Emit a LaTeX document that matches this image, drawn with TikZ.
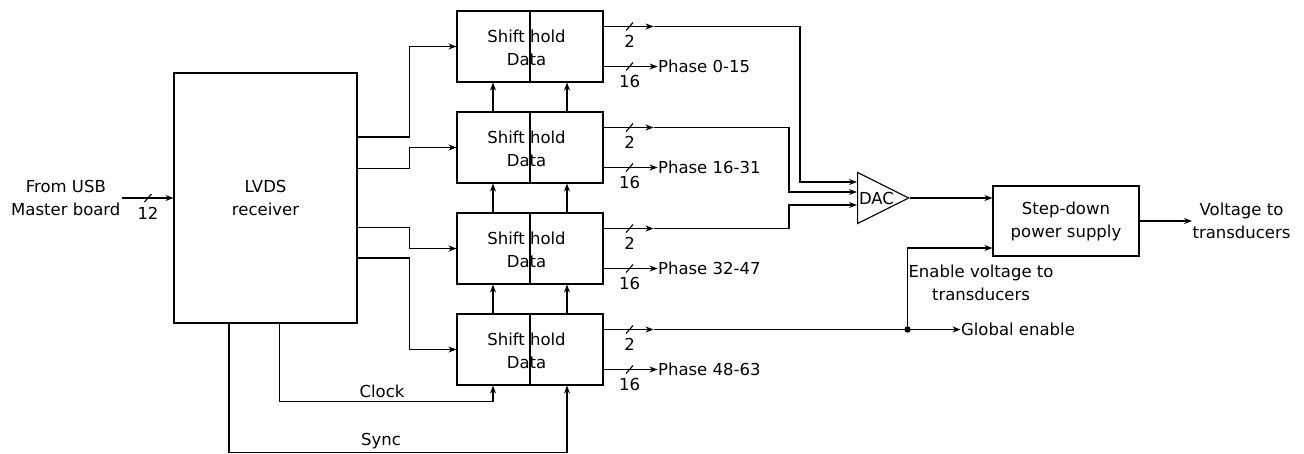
\documentclass[tikz,border=0pt]{standalone}
\usepackage{fontspec}
\setmainfont{DejaVu Sans}
\usetikzlibrary{arrows.meta, shapes.geometric, calc}
\tikzset{
  every picture/.style={font=\fontsize{16.5}{23}\selectfont, line width=1.1pt},
  blk/.style={draw, rectangle, align=center, inner sep=0pt},
  shbox/.style={blk, minimum width=146pt, minimum height=71pt},
  dac/.style={draw, isosceles triangle, isosceles triangle stretches, minimum width=51pt, minimum height=51pt, inner sep=0pt, anchor=west},
  arr/.style={-{Stealth[length=8pt, width=6pt]}},
  txt/.style={align=center, inner sep=1pt},
  buslbl/.style={inner sep=0pt},
}
% bus width mark: slash on the line plus its width below
\newcommand{\busmark}[3]{%
  \draw ([shift={(22.5pt,-4pt)}]#1) -- ([shift={(29.5pt,4pt)}]#1);
  \node[buslbl] (#3) at ([shift={(26pt,-15pt)}]#1) {#2};}

\begin{document}
\begin{tikzpicture}[x=1pt, y=-1pt]
  \useasboundingbox (0,0) rectangle (1304,453);
  \node[blk, minimum width=183pt, minimum height=250pt] (lvds) at (265.5,198) {LVDS\\receiver};
  \node[txt, anchor=east] (src) at (122,198) {From USB\\Master board};
  \draw[arr] (src.east) -- (lvds.west);
  \busmark{src.east}{12}{w0}
  % shift/hold registers
  \foreach \i/\p in {1/0-15, 2/16-31, 3/32-47, 4/48-63}{
    \node[shbox] (sh\i) at (530,{46.5+101*(\i-1)}) {};
    \node[txt] (shl\i) at ([shift={(-3.5pt,-1pt)}]sh\i.center) {Shift hold\\Data};
    \draw (sh\i.north) -- (sh\i.south);
    \coordinate (t\i) at ([yshift=20pt]sh\i.east);
    \coordinate (b\i) at ([yshift=-20pt]sh\i.east);
    \draw[arr] (t\i) -- ++(50pt,0) coordinate (m\i);
    \busmark{t\i}{2}{wt\i}
    \node[txt, anchor=west, inner sep=0pt] (ph\i) at ([xshift=54pt]b\i) {Phase \p};
    \draw[arr] (b\i) -- (ph\i.west);
    \busmark{b\i}{16}{wb\i}
  }
  \foreach \i/\dy in {1/61, 2/29.5, 3/-29.5, 4/-60}
    \draw[arr] ([yshift=\dy pt]lvds.east) -- ++(52pt,0) |- (sh\i.west);
  \foreach \a/\b in {2/1, 3/2, 4/3}{
    \draw[arr] ([xshift=-37pt]sh\a.north) -- ([xshift=-37pt]sh\b.south);
    \draw[arr] ([xshift=37pt]sh\a.north) -- ([xshift=37pt]sh\b.south);
  }
  % clock and sync
  \draw[arr] ([xshift=14pt]lvds.south) |- node[pos=0.74, above, inner sep=3pt] (clk) {Clock} ($(sh4.south)+(-37pt,-16pt)$) -- ([xshift=-37pt]sh4.south);
  \draw[arr] ([xshift=-36.5pt]lvds.south) |- node[pos=0.725, above, inner sep=3pt] (syn) {Sync} ($(sh4.south)+(37pt,-66.5pt)$) -- ([xshift=37pt]sh4.south);
  % DAC and supply
  \node[dac] (dac) at (857,198) {};
  \node[inner sep=0pt] (daclbl) at (876.5,198) {DAC};
  \draw[arr] (m1) -| ($(dac.west)+(-57pt,16pt)$) -- ([yshift=16pt]dac.west);
  \draw[arr] (m2) -| ($(dac.west)+(-68pt,6pt)$) -- ([yshift=6pt]dac.west);
  \draw[arr] (m3) -| ($(dac.west)+(-68pt,-7pt)$) -- ([yshift=-7pt]dac.west);
  \node[blk, minimum width=146pt, minimum height=70pt] (psu) at (1066,221) {Step-down\\power supply};
  \draw[arr] (dac.east) -- (dac.east -| psu.west);
  \node[txt, anchor=west, inner sep=0pt] (vout) at (1192,221) {Voltage to\\transducers};
  \draw[arr] (psu.east) -- (vout.west);
  % enable
  \coordinate (jn) at ([xshift=254pt]m4);
  \node[txt, anchor=west, inner sep=0pt] (glob) at ([xshift=53pt]jn) {Global enable};
  \draw (m4) -- (jn);
  \draw[arr] (jn) -- (glob.west);
  \fill (jn) circle (3.2pt);
  \draw[arr] (jn) |- ([yshift=-27pt]psu.west);
  \node[txt] (envl) at (981,283) {Enable voltage to\\transducers};
\end{tikzpicture}
\end{document}
